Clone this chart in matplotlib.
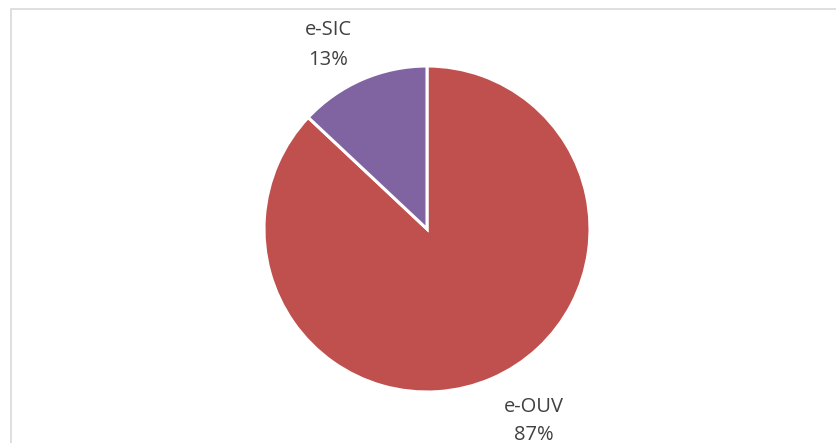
import matplotlib
matplotlib.use("Agg")
import matplotlib.pyplot as plt
from matplotlib.patches import Rectangle

categories = ["e-OUV", "e-SIC"]
values = [87, 13]
colors = ["#C0504D", "#8064A2"]

W, H = 836, 443
fig = plt.figure(figsize=(W / 100, H / 100), dpi=100)
fig.patch.set_facecolor("white")

# chart border (extends beyond the cropped right/bottom edges)
fig.patches.append(Rectangle((10.5 / W, -0.2), 1.5, (H - 8.5) / H + 0.2,
                             transform=fig.transFigure, fill=False,
                             edgecolor="#D9D9D9", linewidth=1.2))

cx, cy, r = 427, H - 229, 163
ax = fig.add_axes([(cx - r) / W, (cy - r) / H, 2 * r / W, 2 * r / H])
wedges, _ = ax.pie(values, colors=colors, startangle=90, counterclock=False,
                   radius=1, wedgeprops=dict(edgecolor="white", linewidth=2.2))
ax.set_xlim(-1, 1)
ax.set_ylim(-1, 1)
ax.set_aspect("equal")
ax.axis("off")

# label anchor: (x, baseline of name line, baseline of percent line)
label_pos = {"e-SIC": (-0.607, 1.190, 1.006), "e-OUV": (0.656, -1.123, -1.294)}
total = sum(values)
fam = ["Open Sans", "DejaVu Sans"]
for cat, v in zip(categories, values):
    x, y1, y2 = label_pos[cat]
    ax.text(x, y1, cat, ha="center", va="baseline", fontsize=14.5,
            color="#404040", family=fam, clip_on=False)
    ax.text(x, y2, f"{round(100 * v / total)}%", ha="center", va="baseline",
            fontsize=14.5, color="#404040", family=fam, clip_on=False)

fig.savefig("out.png", dpi=100)
